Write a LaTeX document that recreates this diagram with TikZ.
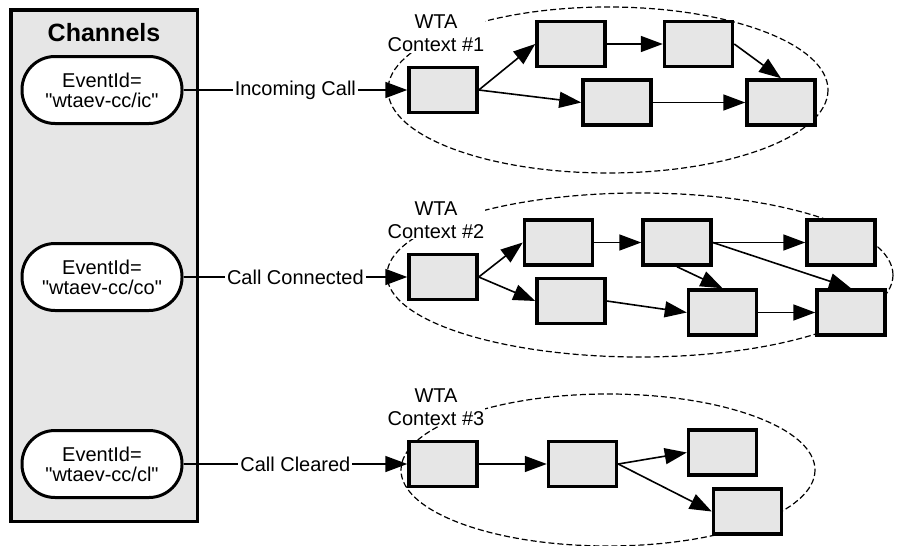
\documentclass[tikz,border=0pt]{standalone}
\usepackage{fontspec}
\setmainfont{Liberation Sans}[Ligatures=TeXOff]
\usetikzlibrary{arrows.meta}
\definecolor{boxgray}{RGB}{230,230,230}
\begin{document}
\begin{tikzpicture}[x=1pt,y=-1pt,
  stepbox/.style={draw, line width=3.5pt, fill=boxgray, minimum width=68pt, minimum height=45pt, inner sep=0pt, line join=miter},
  arr/.style={line width=1.6pt, -{Triangle[length=22pt,width=16pt]}},
  ctx/.style={dash pattern=on 6pt off 3pt, line width=1.2pt},
  ev/.style={draw, line width=3pt, fill=white, rounded corners=33pt, minimum width=160pt, minimum height=67pt, align=center, font=\fontsize{20}{20}\selectfont, inner sep=0pt},
  lbl/.style={fill=white, font=\fontsize{20}{24}\selectfont, inner sep=2pt},
  wta/.style={fill=white, align=center, font=\fontsize{20}{23}\selectfont, inner sep=1pt}
]
\useasboundingbox (0,0) rectangle (897,546);

% Channels panel
\node[draw, line width=3.5pt, fill=boxgray, minimum width=186.5pt, minimum height=511.5pt, inner sep=0pt] (panel) at (104,265.5) {};
\node[font=\fontsize{25}{28}\selectfont\bfseries] (chan) at (104,33) {Channels};

\node[ev] (ev1) at (102,90) {EventId=\\"wtaev-cc/ic"};
\node[ev] (ev2) at (102,277) {EventId=\\"wtaev-cc/co"};
\node[ev] (ev3) at (102,464) {EventId=\\"wtaev-cc/cl"};

% context outlines
\draw[ctx] (608,90) ellipse [x radius=220, y radius=83];
\draw[ctx] (640,275) ellipse [x radius=253, y radius=82];
\draw[ctx] (608,470) ellipse [x radius=207, y radius=76];

\node[wta] (w1) at (436,33.5) {WTA\\Context \#1};
\node[wta] (w2) at (436,220) {WTA\\Context \#2};
\node[wta] (w3) at (436,407) {WTA\\Context \#3};

% context 1
\node[stepbox] (A1) at (443,90) {};
\node[stepbox] (B1) at (571,44) {};
\node[stepbox] (C1) at (698.5,44) {};
\node[stepbox] (D1) at (617,102.5) {};
\node[stepbox] (E1) at (781,102.5) {};

% context 2
\node[stepbox] (A2) at (443,277) {};
\node[stepbox] (B2) at (558.5,242.5) {};
\node[stepbox] (C2) at (677,242.5) {};
\node[stepbox] (D2) at (841,242.5) {};
\node[stepbox] (E2) at (571,301) {};
\node[stepbox] (F2) at (722.5,312.5) {};
\node[stepbox] (G2) at (851,312.5) {};

% context 3
\node[stepbox] (A3) at (443,464) {};
\node[stepbox] (B3) at (582.5,464) {};
\node[stepbox] (C3) at (722.5,452.5) {};
\node[stepbox] (D3) at (747.5,511.5) {};

% channel connectors
\draw[arr] (ev1.east) -- node[lbl] {Incoming Call} (A1.west);
\draw[arr] (ev2.east) -- node[lbl] {Call Connected} (A2.west);
\draw[arr] (ev3.east) -- node[lbl] {Call Cleared} (A3.west);

% context 1 edges
\draw[arr] (A1.east) -- (B1.west);
\draw[arr] (A1.east) -- (D1.west);
\draw[arr] (B1.east) -- (C1.west);
\draw[arr] (C1.east) -- (E1.north);
\draw[arr] (D1.east) -- (E1.west);

% context 2 edges
\draw[arr] (A2.east) -- (B2.west);
\draw[arr] (A2.east) -- (E2.west);
\draw[arr] (B2.east) -- (C2.west);
\draw[arr] (C2.east) -- (D2.west);
\draw[arr] (C2.south) -- (F2.north);
\draw[arr] (C2.east) -- (G2.north);
\draw[arr] (E2.east) -- (F2.west);
\draw[arr] (F2.east) -- (G2.west);

% context 3 edges
\draw[arr] (A3.east) -- (B3.west);
\draw[arr] (B3.east) -- (C3.west);
\draw[arr] (B3.east) -- (D3.west);
\end{tikzpicture}
\end{document}
